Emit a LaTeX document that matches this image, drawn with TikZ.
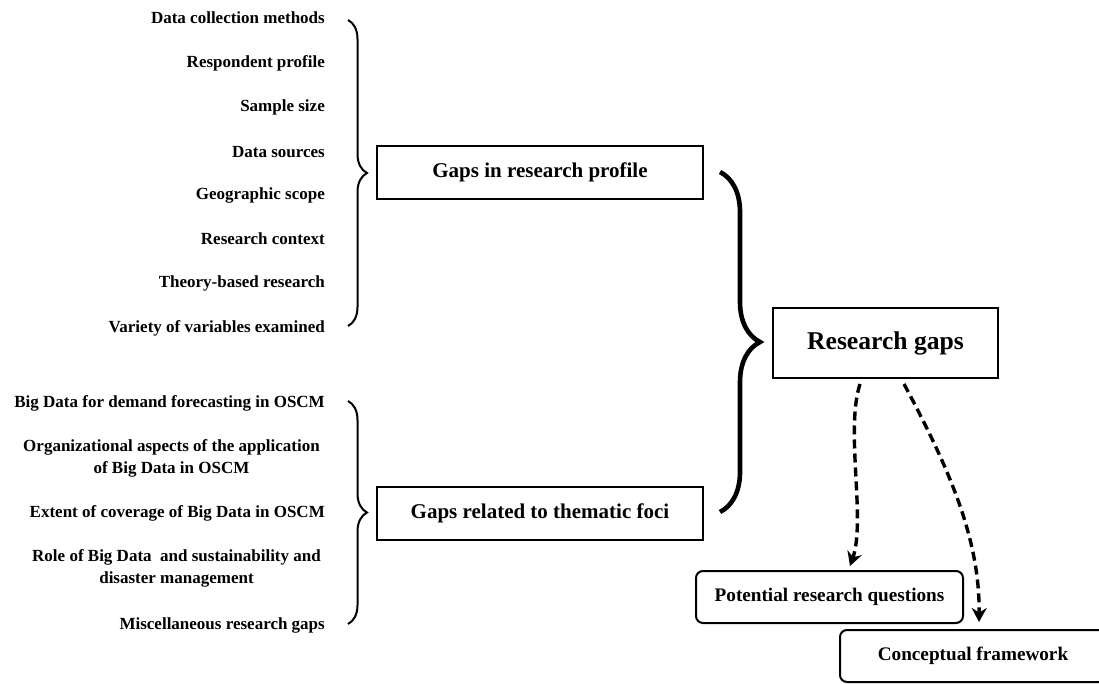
\documentclass[tikz,border=0pt]{standalone}
\usepackage{fontspec}
\setmainfont{Liberation Serif}
\usetikzlibrary{decorations.pathreplacing,arrows.meta,positioning}

\tikzset{
  item/.style={anchor=east, inner sep=0pt, align=center,
    font=\fontsize{17}{22}\selectfont\bfseries},
  gapbox/.style={draw, line width=2pt, minimum width=326pt, minimum height=53pt,
    font=\fontsize{21}{25}\selectfont\bfseries},
  outbox/.style={draw, line width=2pt, rounded corners=7pt, minimum width=267pt,
    minimum height=52pt, font=\fontsize{19.2}{23}\selectfont\bfseries},
  smallbrace/.style={decorate, decoration={brace, amplitude=19pt}, line width=2pt},
  bigbrace/.style={decorate, decoration={brace, amplitude=40pt}, line width=4.6pt},
  dasharrow/.style={line width=3.4pt, dash pattern=on 9pt off 5pt,
    -{Stealth[length=14pt, width=15pt]}}
}

\begin{document}
\begin{tikzpicture}[x=1pt, y=-1pt]
  \useasboundingbox (0,0) rectangle (1099,683);

  % research profile items
  \node[item] (dcm) at (325,18) {Data collection methods};
  \node[item] (rp)  at (325,63) {Respondent profile};
  \node[item] (ss)  at (325,107) {Sample size};
  \node[item] (ds)  at (325,152) {Data sources};
  \node[item] (gs)  at (325,195) {Geographic scope};
  \node[item] (rc)  at (325,239) {Research context};
  \node[item] (tbr) at (325,283) {Theory-based research};
  \node[item] (vv)  at (325,328) {Variety of variables examined};

  % thematic foci items
  \node[item] (bdf) at (325,403) {Big Data for demand forecasting in OSCM};
  \node[item] (oa)  at (320,458) {Organizational aspects of the application\\of Big Data in OSCM};
  \node[item] (ec)  at (325,513) {Extent of coverage of Big Data in OSCM};
  \node[item] (rbd) at (321,568) {Role of Big Data \ and sustainability and\\disaster management};
  \node[item] (mrg) at (325,625) {Miscellaneous research gaps};

  % boxes
  \node[gapbox] (grp) at (540,172.5) {Gaps in research profile};
  \node[gapbox] (gtf) at (540,513) {Gaps related to thematic foci};
  \node[draw, line width=2pt, minimum width=225pt, minimum height=70pt,
    font=\fontsize{25.6}{30}\selectfont\bfseries] (rg) at (885.5,343) {Research gaps};
  \node[outbox] (prq) at (829.5,597) {Potential research questions};
  \node[outbox, minimum width=266pt] (cf) at (973,656) {Conceptual framework};

  % braces
  \coordinate (b1t) at (348,20);
  \coordinate (b1b) at (348,326);
  \coordinate (b2t) at (348,401);
  \coordinate (b2b) at (348,624);
  \coordinate (b3t) at (720,172);
  \coordinate (b3b) at (720,512);
  \draw[smallbrace] (b1t) -- (b1b);
  \draw[smallbrace] (b2t) -- (b2b);
  \draw[bigbrace] (b3t) -- (b3b);

  % arrows
  \draw[dasharrow] ([xshift=-25.5pt, yshift=-5pt]rg.south)
    .. controls (845,430) and (866,520) .. ([xshift=20.5pt, yshift=4pt]prq.north);
  \draw[dasharrow] ([xshift=18.5pt, yshift=-5pt]rg.south)
    .. controls (950,470) and (980,540) .. ([xshift=6pt, yshift=7pt]cf.north);
\end{tikzpicture}
\end{document}
